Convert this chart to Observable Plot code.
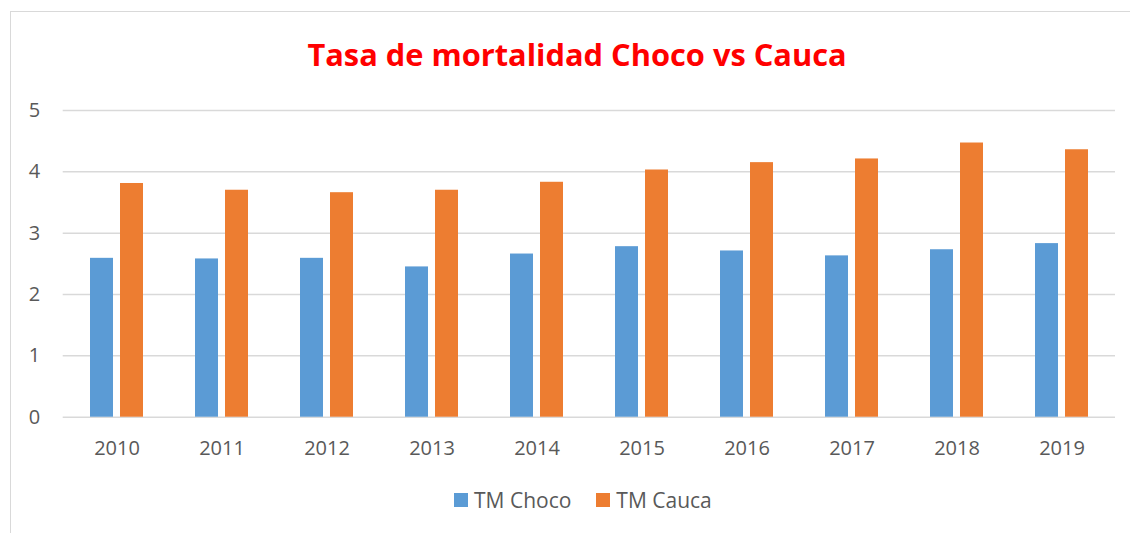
<!DOCTYPE html>
<html>
<head>
<meta charset="utf-8">
<script src="https://cdn.jsdelivr.net/npm/d3@7"></script>
<script src="https://cdn.jsdelivr.net/npm/@observablehq/plot@0.6"></script>
<style>
  html, body { margin: 0; padding: 0; background: #fff; }
  #wrap { position: relative; width: 1130px; height: 533px; overflow: hidden; font-family: "Open Sans", sans-serif; }
  #frame { position: absolute; left: 10px; top: 11px; width: 1140px; height: 540px; border: 1.5px solid #d9d9d9; box-sizing: border-box; }
  #title { position: absolute; left: 577px; top: 39px; transform: translateX(-50%); white-space: nowrap;
           font-size: 30.8px; line-height: 30px; font-weight: 700; color: #ff0000; }
  #chart { position: absolute; left: 0; top: 0; }
  #legend { position: absolute; left: 454px; top: 488px; display: flex; align-items: center; color: #595959; font-size: 21px; line-height: 24px; }
  .sw { width: 14px; height: 14px; display: inline-block; margin-right: 6px; }
  .item { display: flex; align-items: center; margin-right: 25px; }
</style>
</head>
<body>
<div id="wrap">
  <div id="frame"></div>
  <div id="title">Tasa de mortalidad Choco vs Cauca</div>
  <div id="chart"></div>
  <div id="legend"></div>
</div>
<script>
const years = ["2010","2011","2012","2013","2014","2015","2016","2017","2018","2019"];
const choco = [2.59, 2.58, 2.59, 2.45, 2.66, 2.78, 2.71, 2.63, 2.73, 2.83];
const cauca = [3.81, 3.70, 3.66, 3.70, 3.83, 4.03, 4.15, 4.21, 4.47, 4.36];
const seriesNames = ["TM Choco", "TM Cauca"];
const seriesColors = ["#5B9BD5", "#ED7D31"];
const yTicks = [0, 1, 2, 3, 4, 5];

const chocoData = years.map((y, i) => ({year: y, value: choco[i]}));
const caucaData = years.map((y, i) => ({year: y, value: cauca[i]}));

const plot = Plot.plot({
  width: 1130,
  height: 470,
  marginTop: 110,
  marginBottom: 53.3,
  marginLeft: 62.7,
  marginRight: 15,
  style: {fontFamily: "'Open Sans', sans-serif", fontSize: "20px", color: "#595959", background: "transparent"},
  x: {domain: years, paddingInner: 0.494, paddingOuter: 0.247},
  y: {domain: [0, 5]},
  marks: [
    Plot.gridY(yTicks, {stroke: "#d9d9d9", strokeOpacity: 1, strokeWidth: 1.5}),
    Plot.barY(chocoData, {x: "year", y: "value", fill: seriesColors[0], insetRight: 30}),
    Plot.barY(caucaData, {x: "year", y: "value", fill: seriesColors[1], insetLeft: 30}),
    Plot.axisY(yTicks, {tickSize: 0, tickPadding: 23, label: null, fill: "#595959", tickFormat: d => String(d)}),
    Plot.axisX({tickSize: 0, tickPadding: 24, label: null, fill: "#595959"})
  ]
});
document.getElementById("chart").appendChild(plot);

const legend = document.getElementById("legend");
seriesNames.forEach((name, i) => {
  const item = document.createElement("div");
  item.className = "item";
  const sw = document.createElement("span");
  sw.className = "sw";
  sw.style.background = seriesColors[i];
  const t = document.createElement("span");
  t.textContent = name;
  item.appendChild(sw);
  item.appendChild(t);
  legend.appendChild(item);
});
</script>
</body>
</html>
